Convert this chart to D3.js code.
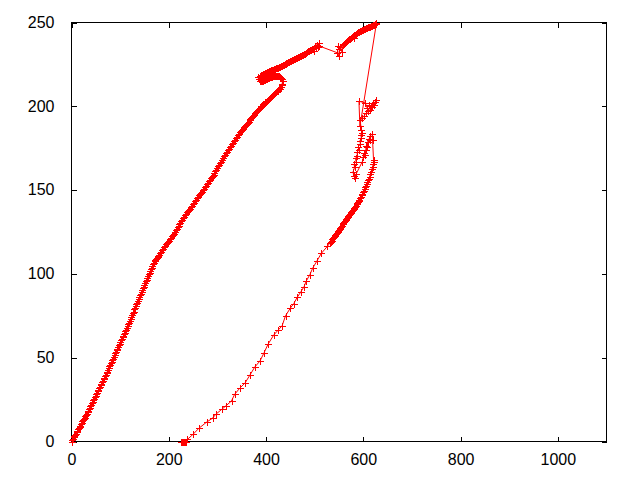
<!DOCTYPE html>
<html>
<head>
<meta charset="utf-8">
<script src="https://cdn.jsdelivr.net/npm/d3@7"></script>
<style>
  html, body { margin: 0; padding: 0; background: #fff; }
  svg { display: block; }
  .tick text { font-family: "Liberation Sans", Arial, sans-serif; font-size: 16px; fill: #000; }
</style>
</head>
<body>
<svg id="chart" width="640" height="480"></svg>
<script>
// ---- data ----
const xTicks = [0, 200, 400, 600, 800, 1000];
const yTicks = [0, 50, 100, 150, 200, 250];

// rising branch from the origin (densely sampled)
const ascent = [[0,0],[1.5,0.9],[3,1.5],[4.5,2.5],[6,3.1],[7.5,4.1],[9,4.7],[10.5,5.7],[12,6.3],[13.5,7.3],[15,7.9],[16.5,8.8],[18,9.4],[19.5,10.4],[21,11.0],[22.5,12.0],[24,12.7],[25.5,13.7],[27,14.3],[28.5,15.3],[30,16.1],[31.5,16.7],[33,17.7],[34.5,18.4],[36,19.4],[37.5,20.0],[39,21.1],[40.5,21.7],[42,22.8],[43.5,23.5],[45,24.6],[46.5,25.3],[48,26.4],[49.5,27.1],[51,28.2],[52.5,28.9],[54,30.0],[55.5,30.7],[57,31.8],[58.5,32.5],[60,33.6],[61.5,34.3],[63,35.4],[64.5,36.1],[66,37.2],[67.5,37.9],[69,39.0],[70.5,39.7],[72,40.9],[73.5,41.7],[75,42.9],[76.5,43.6],[78,44.8],[79.5,45.6],[81,46.7],[82.5,47.5],[84,48.7],[85.5,49.5],[87,50.6],[88.5,51.4],[90,52.6],[91.5,53.4],[93,54.5],[94.5,55.3],[96,56.5],[97.5,57.3],[99,58.4],[100.5,59.2],[102,60.3],[103.5,61.0],[105,62.1],[106.5,62.8],[108,63.9],[109.5,64.6],[111,65.8],[112.5,66.7],[114,67.9],[115.5,68.8],[117,70.0],[118.5,70.9],[120,72.1],[121.5,73.0],[123,74.3],[124.5,75.3],[126,76.6],[127.5,77.5],[129,78.8],[130.5,79.9],[132,80.8],[133.5,82.0],[135,82.9],[136.5,84.1],[138,85.0],[139.5,86.2],[141,87.3],[142.5,88.2],[144,89.4],[145.5,90.3],[147,91.5],[148.5,92.4],[150,93.6],[151.5,94.5],[153,95.7],[154.5,96.6],[156,97.8],[157.5,98.7],[159,99.9],[160.5,100.7],[162,101.9],[163.5,102.7],[165,103.8],[166.5,104.6],[168,105.8],[169.5,106.6],[171,107.5],[172.5,108.0],[174,108.9],[175.5,109.4],[177,110.2],[178.5,110.7],[180,111.4],[182,112.5],[184,113.2],[186,114.3],[188,115.0],[190,116.1],[192,116.7],[194,117.7],[196,118.3],[198,119.3],[200,119.9],[202,120.9],[204,121.5],[206,122.5],[208,123.1],[210,124.1],[212,124.8],[214,125.9],[216,126.6],[218,127.7],[220,128.4],[222,129.5],[224,130.2],[226,131.3],[228,132.0],[230,133.1],[232,133.8],[234,134.9],[236,135.6],[238,136.7],[240,137.4],[242,138.4],[244,139.0],[246,140.0],[248,140.6],[250,141.6],[252,142.3],[254,143.4],[256,144.1],[258,145.2],[260,145.9],[262,146.9],[264,147.5],[266,148.5],[268,149.1],[270,150.1],[272,150.8],[274,151.9],[276,152.6],[278,153.7],[280,154.4],[282,155.4],[284,156.0],[286,157.0],[288,157.6],[290,158.6],[292,159.3],[294,160.4],[296,161.1],[298,162.2],[300,162.9],[302,164.1],[304,164.9],[306,166.1],[308,166.9],[310,168.1],[312,168.9],[314,170.1],[316,170.9],[318,172.1],[320,172.9],[322,174.0],[324,174.7],[326,175.8],[328,176.5],[330,177.6],[332,178.3],[334,179.4],[336,180.1],[338,181.2],[340,181.9],[342,182.9],[344,183.5],[346,184.5],[348,185.1],[350,186.1],[352,186.6],[354,187.5],[356,188.0],[358,188.9],[360,189.4],[362,190.3],[364,190.8],[366,191.7],[368,192.2],[370,193.1],[372,193.6],[374,194.5],[376,195.0],[378,195.9],[380,196.4],[382,197.3]];

// hook / loop near x = 400
const loopBand = [[384,197.8],[386,198.6],[388,199.2],[390,199.9],[392,200.4],[394,201.1],[396,201.6],[398,202.3],[400,202.7],[402,203.4],[404,203.8],[406,204.5],[408,204.9],[410,205.6],[412,206.0],[414,206.7],[416,207.1],[418,207.8],[420,208.3],[422,208.9],[424,209.4],[426,210.1],[428,210.6],[430,211.5],[432,212.5],[433,213.6],[434,214.8],[433,216.0],[431,216.8],[429,217.4],[427,217.8],[425,218.1],[423,218.2],[421,218.3],[419,218.2],[417,218.1],[415,217.9],[413,217.7],[411,217.5],[409,217.3],[407,217.1],[405,216.8],[403,216.6],[401,216.3],[399,216.1],[397,215.8],[395,215.5],[393,215.2],[391,215.0],[389,214.8],[387,215.2],[385,216.1],[383,217.3]];

// upper band up to x = 510
const upperBand = [[388,218.3],[390,218.8],[392,218.9],[394,219.3],[396,219.4],[398,219.9],[400,220.0],[402,220.4],[404,220.4],[406,220.9],[408,221.0],[410,221.4],[412,221.5],[414,221.9],[416,222.0],[418,222.4],[420,222.6],[422,223.0],[424,223.1],[426,223.6],[428,223.7],[430,224.2],[432,224.3],[434,224.8],[436,224.9],[438,225.4],[440,225.5],[442,226.0],[444,226.1],[446,226.6],[448,226.7],[450,227.2],[452,227.3],[454,227.8],[456,227.9],[458,228.4],[460,228.5],[462,229.0],[464,229.1],[466,229.6],[468,229.7],[470,230.2],[472,230.3],[474,230.8],[476,230.9],[478,231.4],[480,231.5],[482,232.0],[484,232.2],[486,232.7],[488,232.9],[490,233.4],[492,233.6],[494,234.1],[496,234.3],[498,233.2],[500,235.8],[502,234.5],[504,236.8],[506,235.3],[508,237.6],[509,236.0]];

// top section reaching the upper border
const topBand = [[546,232],[549,230],[551,234],[548,236],[553,235.5],[556,232.5],[558,236.5],[560,236.9],[562,237.5],[564,238.2],[566,238.8],[568,239.3],[570,239.9],[572,240.4],[574,241.0],[576,241.4],[578,241.9],[580,240.5],[580,242.5],[582,242.8],[584,243.2],[586,243.5],[588,243.9],[590,244.3],[592,244.5],[594,244.9],[596,245.2],[598,245.4],[600,245.7],[602,246.0],[604,246.3],[606,246.6],[608,246.9],[610,247.1],[612,247.4],[614,247.6],[616,247.9],[618,248.1],[620,248.4],[622,248.6],[624,249.0],[626,249.3],[627,249.6]];

// tangled cluster around x = 580..630, y = 155..205
const clusterBand = [[593,188],[591,203],[604,202],[608,199],[612,200.5],[616,200],[620,202],[624,202.5],[627,203.5],[622,201],[618,199.5],[614,198],[610,197],[606,196],[602,194.5],[598,193],[593.4,191.8],[596,186],[597,184],[595,183],[596,181],[593,179.5],[594,177.5],[590,176],[591,174],[587,172.5],[588,170.5],[584,169],[585,167],[581,165.5],[582,163.5],[579,161],[580,158.6],[583,157.5],[585,159.5],[598,167],[600,169.5],[601,172],[603,171],[605,174],[606,176.5],[608,176],[609,178.5],[611,180.5],[613,180],[614,182.5],[618,183.5],[619,180],[621,168]];

// descending branch back to y = 0
const descent = [[622,167],[620.5,165.4],[619,163.9],[617.5,162.4],[616,160.9],[614.5,159.5],[613,158.0],[611.5,156.8],[610,155.8],[608.5,154.7],[607,153.8],[605.5,152.7],[604,151.7],[602.5,150.5],[601,149.5],[599.5,148.6],[598,147.6],[596.5,146.8],[595,145.9],[593.5,145.1],[592,144.3],[590.5,143.5],[589,142.8],[587.5,142.1],[586,141.5],[584.5,140.8],[583,140.1],[581.5,139.5],[580,138.9],[578.5,138.2],[577,137.6],[575.5,136.9],[574,136.4],[572.5,135.7],[571,135.1],[569.5,134.4],[568,133.9],[566.5,133.3],[565,132.7],[563.5,132.2],[562,131.6],[560.5,130.9],[559,130.2],[557.5,129.6],[556,128.8],[554.5,128.2],[553,127.5],[551.5,126.9],[550,126.3],[548.5,125.7],[547,125.1],[545.5,124.5],[544,123.9],[542.5,123.3],[541,122.6],[539.5,122.0],[538,121.2],[536.5,120.6],[535,119.9],[533.5,119.3],[532,118.7],[526,116.4],[513.5,112.2],[504,107.4],[496,103.5],[490,99.5],[483,95.9],[478,92.3],[471,89],[464,86],[457,82.3],[450,79.6],[440,75],[433,69],[425,66.5],[416,63.6],[404,58],[396,53],[387.5,48],[377,44.5],[367,39.7],[357,35],[346,31.8],[335.5,28.2],[329,24.2],[318,21.4],[309,19.2],[296.5,16.2],[290,13.9],[278,11.6],[262,7.9],[250,4.3],[238.5,1.3],[236,0],[234,0],[232,0],[230,0],[228,0],[226,0]];

const points = [].concat(ascent, loopBand, upperBand, topBand, clusterBand, descent);

// ---- drawing ----
const svg = d3.select("#chart");
const left = 71.5, right = 606.5, topY = 22.5, bottom = 441.5;
const x = d3.scaleLinear().domain([0, 1100]).range([left, right]);
const y = d3.scaleLinear().domain([0, 250]).range([bottom, topY]);

// axes with inward ticks
const gx = svg.append("g").attr("transform", `translate(0,${bottom})`)
  .call(d3.axisBottom(x).tickValues(xTicks).tickSize(-5).tickSizeOuter(0).tickPadding(12).tickFormat(d3.format("d")));
const gxt = svg.append("g").attr("transform", `translate(0,${topY})`)
  .call(d3.axisTop(x).tickValues(xTicks).tickSize(-5).tickSizeOuter(0).tickFormat(""));
const gy = svg.append("g").attr("transform", `translate(${left},0)`)
  .call(d3.axisLeft(y).tickValues(yTicks).tickSize(-5).tickSizeOuter(0).tickPadding(17).tickFormat(d3.format("d")));
const gyr = svg.append("g").attr("transform", `translate(${right},0)`)
  .call(d3.axisRight(y).tickValues(yTicks).tickSize(-5).tickSizeOuter(0).tickFormat(""));

[gx, gxt, gy, gyr].forEach(g => {
  g.select(".domain").remove();
  g.selectAll(".tick line").attr("stroke", "#000").attr("shape-rendering", "crispEdges");
});
gy.selectAll(".tick text").attr("dy", "0.30em");
gx.selectAll(".tick text").attr("dy", "0.71em");

svg.append("rect")
  .attr("x", left).attr("y", topY)
  .attr("width", right - left).attr("height", bottom - topY)
  .attr("fill", "none").attr("stroke", "#000").attr("stroke-width", 1)
  .attr("shape-rendering", "crispEdges");

// connecting line
const line = d3.line().x(d => x(d[0])).y(d => y(d[1]));
svg.append("path")
  .datum(points)
  .attr("d", line)
  .attr("fill", "none")
  .attr("stroke", "#ff0000")
  .attr("stroke-width", 1);

// "+" point markers
const s = 3.5;
svg.append("g").selectAll("path.pt")
  .data(points)
  .join("path")
  .attr("class", "pt")
  .attr("d", d => {
    const cx = Math.round(x(d[0])) + 0.5, cy = Math.round(y(d[1])) + 0.5;
    return `M${cx - s},${cy}H${cx + s}M${cx},${cy - s}V${cy + s}`;
  })
  .attr("fill", "none")
  .attr("stroke", "#ff0000")
  .attr("stroke-width", 1)
  .attr("shape-rendering", "crispEdges");
</script>
</body>
</html>
